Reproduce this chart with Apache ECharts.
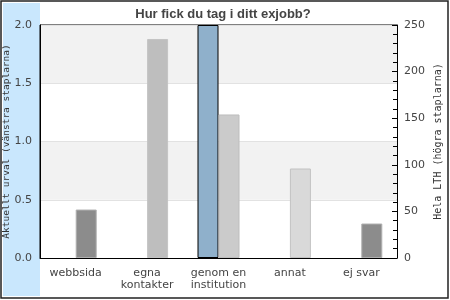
<!DOCTYPE html>
<html><head><meta charset="utf-8">
<script src="https://cdn.jsdelivr.net/npm/echarts@6/dist/echarts.min.js"></script>
<style>html,body{margin:0;padding:0;background:#fff}#c{width:450px;height:300px}</style>
</head><body><div id="c"></div>
<script>
const categories = ['webbsida', 'egna\nkontakter', 'genom en\ninstitution', 'annat', 'ej svar'];
const urvalValues = [null, null, 2.0, null, null];
const lthValues = [52, 235, 154, 96, 37];
const lthColors = ['#8c8c8c', '#bebebe', '#cbcbcb', '#d9d9d9', '#8c8c8c'];
const lthBorders = ['#b0b0b0', '#c4c4c4', '#bdbdbd', '#c2c2c2', '#b0b0b0'];
const leftTicks = {min: 0, max: 2, interval: 0.5};
const rightTicks = {min: 0, max: 250, interval: 50};

const chart = echarts.init(document.getElementById('c'), null, {renderer: 'canvas'});
chart.setOption({
  animation: false,
  backgroundColor: '#fff',
  graphic: [
    {type: 'rect', z: -10, shape: {x: 3, y: 3, width: 37, height: 293}, style: {fill: '#c9e7fd'}},
    {type: 'rect', z: 100, shape: {x: 1, y: 1, width: 447, height: 297}, style: {fill: null, stroke: '#222', lineWidth: 1.5}}
  ],
  title: {
    text: 'Hur fick du tag i ditt exjobb?', left: 218, textAlign: 'center', top: 3,
    textStyle: {fontFamily: 'Liberation Sans', fontWeight: 'bold', fontSize: 13, color: '#444'}
  },
  grid: {left: 40, right: 53, top: 25, bottom: 42, containLabel: false, outerBoundsMode: 'none',
         show: true, borderColor: '#000', borderWidth: 1, backgroundColor: 'transparent'},
  xAxis: {
    type: 'category', data: categories,
    axisLine: {lineStyle: {color: '#000'}}, axisTick: {show: false},
    axisLabel: {color: '#444', fontFamily: 'DejaVu Sans', fontSize: 11, margin: 9, lineHeight: 12, interval: 0}
  },
  yAxis: [
    {
      type: 'value', position: 'left', min: leftTicks.min, max: leftTicks.max, interval: leftTicks.interval,
      name: 'Aktuellt urval (vänstra staplarna)', nameLocation: 'middle', nameRotate: 90, nameGap: 28,
      nameMoveOverlap: false,
      nameTextStyle: {fontFamily: 'DejaVu Sans Mono', fontSize: 9.5, color: '#333'},
      axisLine: {show: true, lineStyle: {color: '#000'}}, axisTick: {show: false},
      axisLabel: {color: '#444', fontFamily: 'DejaVu Sans', fontSize: 11, margin: 8, formatter: v => v.toFixed(1)},
      splitLine: {show: true, lineStyle: {color: '#e2e2e2'}},
      splitArea: {show: true, areaStyle: {color: ['#ffffff', '#f2f2f2']}}
    },
    {
      type: 'value', position: 'right', min: rightTicks.min, max: rightTicks.max, interval: rightTicks.interval,
      name: 'Hela LTH (högra staplarna)', nameLocation: 'middle', nameRotate: 90, nameGap: 36,
      nameMoveOverlap: false,
      nameTextStyle: {fontFamily: 'DejaVu Sans Mono', fontSize: 10, color: '#333'},
      axisLine: {show: true, lineStyle: {color: '#000'}},
      axisTick: {show: true, inside: true, length: 5, lineStyle: {color: '#000'}},
      minorTick: {show: true, splitNumber: 5, length: 4, lineStyle: {color: '#000'}},
      axisLabel: {color: '#444', fontFamily: 'DejaVu Sans', fontSize: 11, margin: 7},
      splitLine: {show: false}
    }
  ],
  series: [
    {
      type: 'bar', yAxisIndex: 0, data: urvalValues, barWidth: 21, barGap: '0%',
      itemStyle: {color: '#8fb0cb', borderColor: '#000', borderWidth: 1}
    },
    {
      type: 'bar', yAxisIndex: 1, barWidth: 21,
      data: lthValues.map((v, i) => ({value: v, itemStyle: {color: lthColors[i], borderColor: lthBorders[i], borderWidth: 1}}))
    }
  ]
});
</script></body></html>
